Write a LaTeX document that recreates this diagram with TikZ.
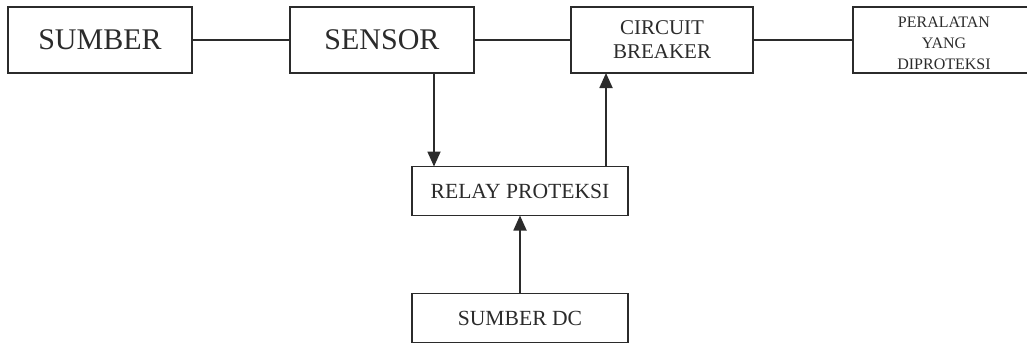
\documentclass[tikz,border=0pt]{standalone}
\usepackage{fontspec}
\setmainfont{Liberation Serif}
\usetikzlibrary{positioning,arrows.meta}
\definecolor{ink}{HTML}{2B2B2B}

\begin{document}
\begin{tikzpicture}[
        every node/.style={draw=ink, text=ink, line width=0.9pt, align=center, inner sep=0pt, outer sep=0pt},
        bigbox/.style={minimum width=92pt, minimum height=33pt, font=\fontsize{15}{18}\selectfont},
        midbox/.style={minimum width=91pt, minimum height=33pt, font=\fontsize{10.5}{12}\selectfont},
        smallbox/.style={minimum width=91pt, minimum height=33pt, font=\fontsize{8}{10.5}\selectfont},
        lowbox/.style={minimum width=108pt, minimum height=24.5pt, font=\fontsize{10.8}{13}\selectfont},
        link/.style={draw=ink, line width=0.9pt},
        flow/.style={link, -{Triangle[width=6.5pt,length=7.5pt]}},
        node distance=49pt
    ]
    \useasboundingbox (0pt,0pt) rectangle (513.5pt,-171.5pt);

    \node[bigbox] (sumber) at (50pt,-20pt) {SUMBER};
    \node[bigbox, right=of sumber] (sensor) {SENSOR};
    \node[midbox, right=48.5pt of sensor] (breaker) {CIRCUIT\\BREAKER};
    \node[smallbox, right=50pt of breaker] (peralatan) {\rule{0pt}{8.5pt}PERALATAN\\YANG\\DIPROTEKSI};
    \node[lowbox] (relay) at (260pt,-95.5pt) {RELAY PROTEKSI};
    \node[lowbox, below=39pt of relay] (sumberdc) {SUMBER DC};

    \draw[link] (sumber) -- (sensor);
    \draw[link] (sensor) -- (breaker);
    \draw[link] (breaker) -- (peralatan);
    \draw[flow] ([xshift=26pt]sensor.south) -- ([xshift=26pt]sensor.south |- relay.north);
    \draw[flow] ([xshift=43pt]relay.north) -- ([xshift=43pt]relay.north |- breaker.south);
    \draw[flow] (sumberdc) -- (relay);
\end{tikzpicture}
\end{document}
